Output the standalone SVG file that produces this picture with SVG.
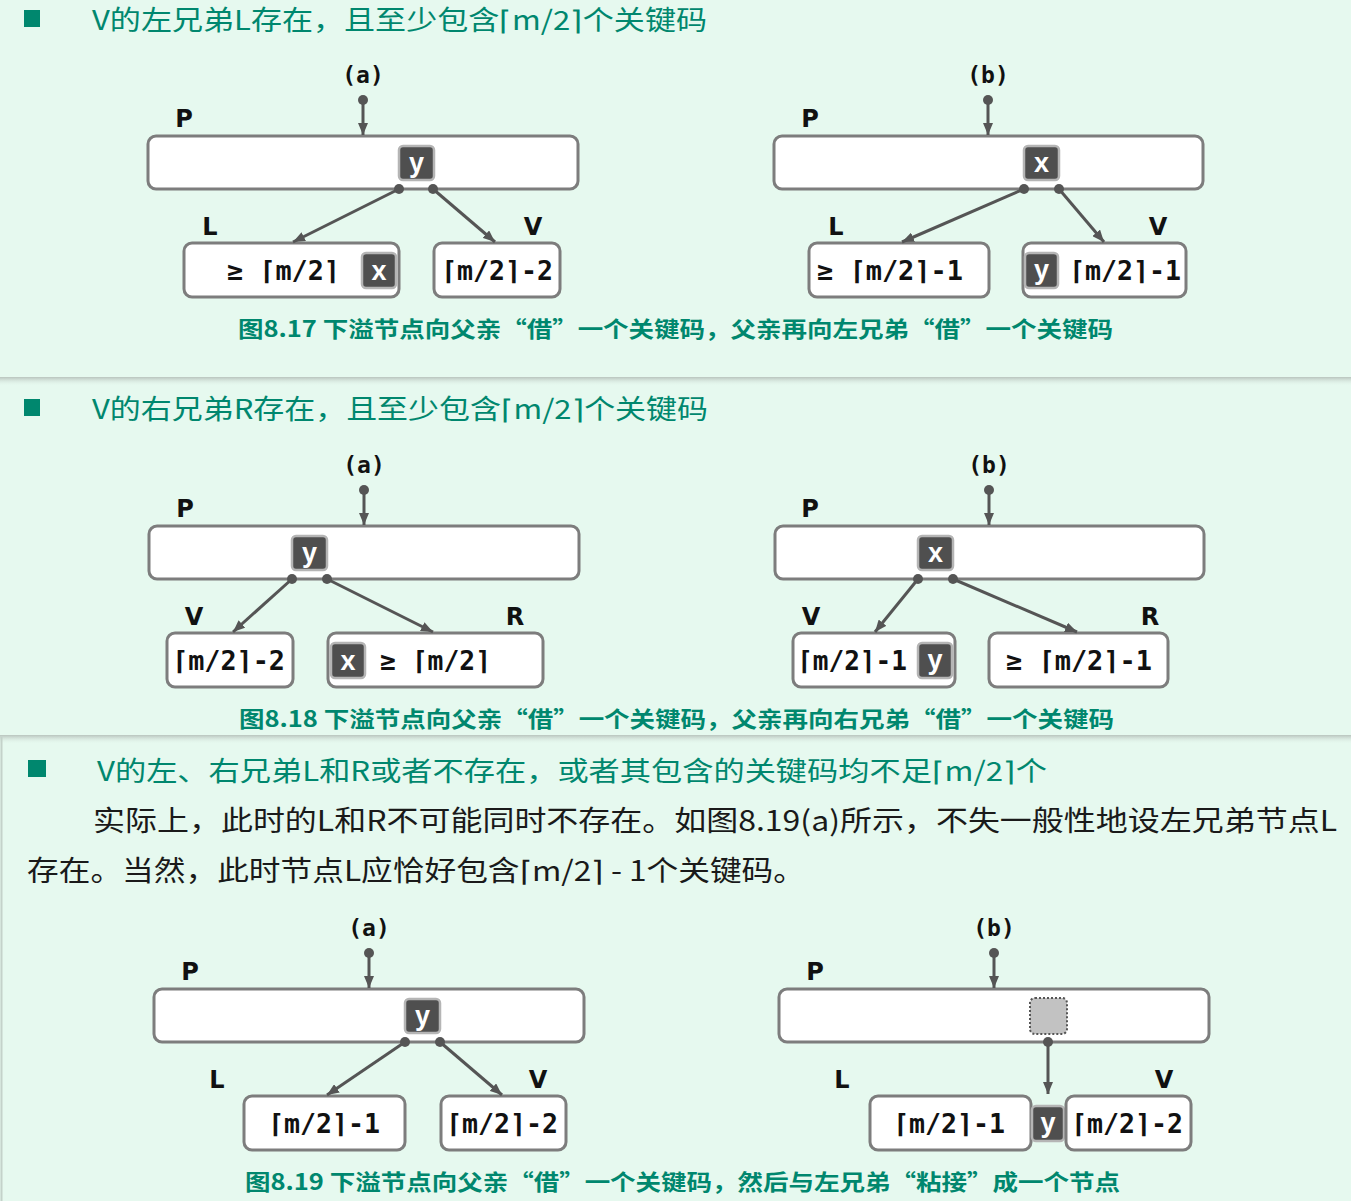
<svg xmlns="http://www.w3.org/2000/svg" width="1351" height="1201" viewBox="0 0 1351 1201">
<defs>
<marker id="arr" markerUnits="userSpaceOnUse" markerWidth="12" markerHeight="10" refX="12" refY="5" orient="auto">
<path d="M0,0 L12,5 L0,10 z" fill="#555"/>
</marker>
<linearGradient id="sh" x1="0" y1="0" x2="0" y2="1">
<stop offset="0" stop-color="#b9c4be"/>
<stop offset="1" stop-color="#e6f9ef" stop-opacity="0"/>
</linearGradient>
<style>
.title{font-family:"Noto Sans CJK SC","Noto Sans",sans-serif;font-size:27px;fill:#00876e;}
.para{font-family:"Noto Sans CJK SC","Noto Sans",sans-serif;font-size:28px;fill:#1a1a1a;}
.cap{font-family:"Noto Sans CJK SC","DejaVu Sans Mono",sans-serif;font-size:22px;font-weight:bold;fill:#00876e;}
.lab{font-family:"DejaVu Sans","Liberation Sans",sans-serif;font-size:24px;font-weight:bold;fill:#111;text-anchor:middle;}
.ab{font-family:"DejaVu Sans Mono","Liberation Mono",monospace;font-size:23px;font-weight:bold;fill:#111;text-anchor:middle;}
.box{fill:#fff;stroke:#7d7d7d;stroke-width:3;}
.key{fill:#4f4f4f;stroke:#b5b5b5;stroke-width:2.5;}
.kt{font-family:"Liberation Sans","DejaVu Sans",sans-serif;font-size:27px;font-weight:bold;fill:#fff;text-anchor:middle;}
.bt{font-family:"DejaVu Sans Mono","Liberation Mono",monospace;font-size:26px;font-weight:bold;fill:#111;}
.bul{fill:#00876e;}
.edge{stroke:#555;stroke-width:3;fill:none;marker-end:url(#arr);}
.dot{fill:#555;}
</style>
</defs>
<rect x="0" y="0" width="1351" height="1201" fill="#e6f9ef"/>
<rect x="0" y="377" width="1351" height="9" fill="url(#sh)"/>
<rect x="0" y="735" width="1351" height="9" fill="url(#sh)"/>
<line x1="1.5" y1="737" x2="1.5" y2="1201" stroke="#c4d2ca" stroke-width="2"/>

<g id="panel1-heading">
<rect class="bul" x="24" y="10" width="16" height="17"/>
<text class="title" x="92" y="30" textLength="615" lengthAdjust="spacingAndGlyphs">V的左兄弟L存在，且至少包含⌈m/2⌉个关键码</text>
</g>
<g id="panel2-heading">
<rect class="bul" x="24" y="399" width="16" height="17"/>
<text class="title" x="92" y="419" textLength="616" lengthAdjust="spacingAndGlyphs">V的右兄弟R存在，且至少包含⌈m/2⌉个关键码</text>
</g>
<g id="panel3-heading">
<rect class="bul" x="28" y="760" width="18" height="17"/>
<text class="title" x="97" y="781" textLength="950" lengthAdjust="spacingAndGlyphs">V的左、右兄弟L和R或者不存在，或者其包含的关键码均不足⌈m/2⌉个</text>
<text class="para" x="93" y="831" textLength="1244" lengthAdjust="spacingAndGlyphs">实际上，此时的L和R不可能同时不存在。如图8.19(a)所示，不失一般性地设左兄弟节点L</text>
<text class="para" x="27" y="881" textLength="778" lengthAdjust="spacingAndGlyphs">存在。当然，此时节点L应恰好包含⌈m/2⌉ - 1个关键码。</text>
</g>

<!-- Figure 8.17 (a) -->
<g id="f17a-labels">
<text class="ab" x="363" y="83">(a)</text>
<text class="lab" x="184" y="127">P</text>
<text class="lab" x="210" y="235">L</text>
<text class="lab" x="533" y="235">V</text>
</g>
<g id="f17a-P"><rect class="box" x="148" y="136" width="430" height="53" rx="8"/>
<rect class="key" x="399" y="146" width="35" height="34" rx="4"/><text class="kt" x="416.5" y="172">y</text></g>
<g id="f17a-L"><rect class="box" x="184" y="243" width="215" height="54" rx="8"/>
<text class="bt" x="227" y="280" textLength="113" lengthAdjust="spacingAndGlyphs">≥ ⌈m/2⌉</text>
<rect class="key" x="362" y="253" width="34" height="35" rx="4"/><text class="kt" x="379" y="280">x</text></g>
<g id="f17a-V"><rect class="box" x="434" y="243" width="126" height="54" rx="8"/>
<text class="bt" x="441" y="280" textLength="112" lengthAdjust="spacingAndGlyphs">⌈m/2⌉-2</text></g>

<!-- Figure 8.17 (b) -->
<g id="f17b-labels">
<text class="ab" x="988" y="83">(b)</text>
<text class="lab" x="810" y="127">P</text>
<text class="lab" x="836" y="235">L</text>
<text class="lab" x="1158" y="235">V</text>
</g>
<g id="f17b-P"><rect class="box" x="774" y="136" width="429" height="53" rx="8"/>
<rect class="key" x="1024" y="146" width="35" height="34" rx="4"/><text class="kt" x="1041.5" y="172">x</text></g>
<g id="f17b-L"><rect class="box" x="809" y="243" width="180" height="54" rx="8"/>
<text class="bt" x="817" y="280" textLength="146" lengthAdjust="spacingAndGlyphs">≥ ⌈m/2⌉-1</text></g>
<g id="f17b-V"><rect class="box" x="1023" y="243" width="163" height="54" rx="8"/>
<rect class="key" x="1025" y="253" width="33" height="35" rx="4"/><text class="kt" x="1041.5" y="279">y</text>
<text class="bt" x="1069" y="280" textLength="112" lengthAdjust="spacingAndGlyphs">⌈m/2⌉-1</text></g>
<g id="cap17"><text class="cap" x="238" y="337" textLength="875" lengthAdjust="spacingAndGlyphs">图8.17  下溢节点向父亲“借”一个关键码，父亲再向左兄弟“借”一个关键码</text></g>

<!-- Figure 8.18 (a) -->
<g id="f18a-labels">
<text class="ab" x="364" y="473">(a)</text>
<text class="lab" x="185" y="517">P</text>
<text class="lab" x="194" y="625">V</text>
<text class="lab" x="515" y="625">R</text>
</g>
<g id="f18a-P"><rect class="box" x="149" y="526" width="430" height="53" rx="8"/>
<rect class="key" x="292" y="536" width="35" height="34" rx="4"/><text class="kt" x="309.5" y="562">y</text></g>
<g id="f18a-V"><rect class="box" x="167" y="633" width="126" height="54" rx="8"/>
<text class="bt" x="172" y="670" textLength="113" lengthAdjust="spacingAndGlyphs">⌈m/2⌉-2</text></g>
<g id="f18a-R"><rect class="box" x="328" y="633" width="215" height="54" rx="8"/>
<rect class="key" x="331" y="643" width="34" height="35" rx="4"/><text class="kt" x="348" y="670">x</text>
<text class="bt" x="380" y="670" textLength="111" lengthAdjust="spacingAndGlyphs">≥ ⌈m/2⌉</text></g>

<!-- Figure 8.18 (b) -->
<g id="f18b-labels">
<text class="ab" x="989" y="473">(b)</text>
<text class="lab" x="810" y="517">P</text>
<text class="lab" x="811" y="625">V</text>
<text class="lab" x="1150" y="625">R</text>
</g>
<g id="f18b-P"><rect class="box" x="775" y="526" width="429" height="53" rx="8"/>
<rect class="key" x="918" y="536" width="35" height="34" rx="4"/><text class="kt" x="935.5" y="562">x</text></g>
<g id="f18b-V"><rect class="box" x="793" y="633" width="162" height="54" rx="8"/>
<text class="bt" x="797" y="670" textLength="110" lengthAdjust="spacingAndGlyphs">⌈m/2⌉-1</text>
<rect class="key" x="918" y="643" width="34" height="35" rx="4"/><text class="kt" x="935" y="669">y</text></g>
<g id="f18b-R"><rect class="box" x="989" y="633" width="179" height="54" rx="8"/>
<text class="bt" x="1006" y="670" textLength="146" lengthAdjust="spacingAndGlyphs">≥ ⌈m/2⌉-1</text></g>
<g id="cap18"><text class="cap" x="239" y="727" textLength="875" lengthAdjust="spacingAndGlyphs">图8.18  下溢节点向父亲“借”一个关键码，父亲再向右兄弟“借”一个关键码</text></g>

<!-- Figure 8.19 (a) -->
<g id="f19a-labels">
<text class="ab" x="369" y="936">(a)</text>
<text class="lab" x="190" y="980">P</text>
<text class="lab" x="217" y="1088">L</text>
<text class="lab" x="538" y="1088">V</text>
</g>
<g id="f19a-P"><rect class="box" x="154" y="989" width="430" height="53" rx="8"/>
<rect class="key" x="405" y="999" width="35" height="34" rx="4"/><text class="kt" x="422.5" y="1025">y</text></g>
<g id="f19a-L"><rect class="box" x="244" y="1096" width="161" height="54" rx="8"/>
<text class="bt" x="268" y="1133" textLength="112" lengthAdjust="spacingAndGlyphs">⌈m/2⌉-1</text></g>
<g id="f19a-V"><rect class="box" x="441" y="1096" width="125" height="54" rx="8"/>
<text class="bt" x="446" y="1133" textLength="112" lengthAdjust="spacingAndGlyphs">⌈m/2⌉-2</text></g>

<!-- Figure 8.19 (b) -->
<g id="f19b-labels">
<text class="ab" x="994" y="936">(b)</text>
<text class="lab" x="815" y="980">P</text>
<text class="lab" x="842" y="1088">L</text>
<text class="lab" x="1164" y="1088">V</text>
</g>
<g id="f19b-P"><rect class="box" x="779" y="989" width="430" height="53" rx="8"/>
<rect x="1030" y="998" width="37" height="36" rx="5" fill="#c2c2c2" stroke="#555" stroke-width="2" stroke-dasharray="2,2"/></g>
<g id="f19b-L"><rect class="box" x="870" y="1096" width="161" height="54" rx="8"/>
<text class="bt" x="893" y="1133" textLength="112" lengthAdjust="spacingAndGlyphs">⌈m/2⌉-1</text></g>
<g id="f19b-y"><rect class="key" x="1032" y="1106" width="32" height="35" rx="4"/><text class="kt" x="1048" y="1132">y</text></g>
<g id="f19b-V"><rect class="box" x="1066" y="1096" width="125" height="54" rx="8"/>
<text class="bt" x="1071" y="1133" textLength="112" lengthAdjust="spacingAndGlyphs">⌈m/2⌉-2</text></g>
<g id="cap19"><text class="cap" x="245" y="1190" textLength="875" lengthAdjust="spacingAndGlyphs">图8.19  下溢节点向父亲“借”一个关键码，然后与左兄弟“粘接”成一个节点</text></g>

<g id="connectors">
<line class="edge" x1="363" y1="100" x2="363" y2="135"/><circle class="dot" cx="363" cy="100" r="5"/>
<line class="edge" x1="399" y1="189" x2="293" y2="242"/><circle class="dot" cx="399" cy="189" r="5"/>
<line class="edge" x1="433" y1="189" x2="495" y2="242"/><circle class="dot" cx="433" cy="189" r="5"/>
<line class="edge" x1="988" y1="100" x2="988" y2="135"/><circle class="dot" cx="988" cy="100" r="5"/>
<line class="edge" x1="1024" y1="189" x2="902" y2="242"/><circle class="dot" cx="1024" cy="189" r="5"/>
<line class="edge" x1="1059" y1="189" x2="1104" y2="242"/><circle class="dot" cx="1059" cy="189" r="5"/>
<line class="edge" x1="364" y1="490" x2="364" y2="525"/><circle class="dot" cx="364" cy="490" r="5"/>
<line class="edge" x1="292" y1="579" x2="233" y2="632"/><circle class="dot" cx="292" cy="579" r="5"/>
<line class="edge" x1="327" y1="579" x2="433" y2="632"/><circle class="dot" cx="327" cy="579" r="5"/>
<line class="edge" x1="989" y1="490" x2="989" y2="525"/><circle class="dot" cx="989" cy="490" r="5"/>
<line class="edge" x1="918" y1="579" x2="875" y2="632"/><circle class="dot" cx="918" cy="579" r="5"/>
<line class="edge" x1="953" y1="579" x2="1077" y2="632"/><circle class="dot" cx="953" cy="579" r="5"/>
<line class="edge" x1="369" y1="953" x2="369" y2="988"/><circle class="dot" cx="369" cy="953" r="5"/>
<line class="edge" x1="405" y1="1042" x2="327" y2="1095"/><circle class="dot" cx="405" cy="1042" r="5"/>
<line class="edge" x1="440" y1="1042" x2="502" y2="1095"/><circle class="dot" cx="440" cy="1042" r="5"/>
<line class="edge" x1="994" y1="953" x2="994" y2="988"/><circle class="dot" cx="994" cy="953" r="5"/>
<line class="edge" x1="1048" y1="1042" x2="1048" y2="1094"/><circle class="dot" cx="1048" cy="1042" r="5"/>
</g>
</svg>
